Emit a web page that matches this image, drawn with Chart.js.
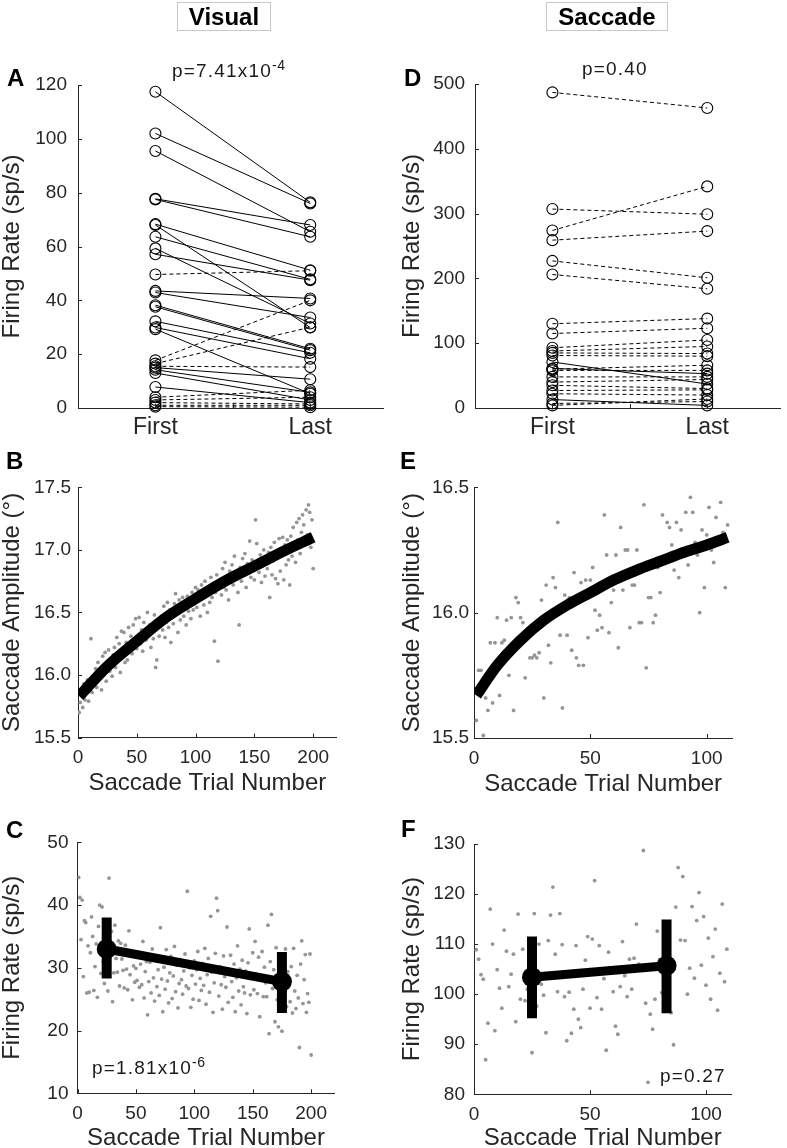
<!DOCTYPE html>
<html><head><meta charset="utf-8">
<script src="https://cdn.jsdelivr.net/npm/chart.js@4.4.0/dist/chart.umd.min.js"></script>
<style>
html,body{margin:0;padding:0;background:#fff;overflow:hidden;}
#wrap{position:relative;width:787px;height:1148px;}
canvas{position:absolute;left:0;top:0;}
.txt{position:absolute;font-family:'Liberation Sans',Arial,sans-serif;line-height:1;white-space:nowrap;color:#000;}
.let{font-size:24px;font-weight:bold;}
.pv{font-size:19px;letter-spacing:1.2px;color:#1a1a1a;}
.sup{font-size:14px;position:relative;top:-7px;letter-spacing:0.5px;}
.box{position:absolute;box-sizing:border-box;border:1px solid #c8c8c8;height:29px;top:2px;font:bold 24px 'Liberation Sans',Arial,sans-serif;line-height:27px;text-align:center;color:#000;}
</style></head>
<body><div id="wrap">
<canvas id="cA" width="787" height="1148"></canvas>
<canvas id="cB" width="787" height="1148"></canvas>
<canvas id="cC" width="787" height="1148"></canvas>
<canvas id="cD" width="787" height="1148"></canvas>
<canvas id="cE" width="787" height="1148"></canvas>
<canvas id="cF" width="787" height="1148"></canvas>
<div class="box" style="left:177px;width:94px">Visual</div>
<div class="box" style="left:546px;width:122px">Saccade</div>
<div class="txt let" style="left:7px;top:66px">A</div>
<div class="txt let" style="left:6px;top:449px">B</div>
<div class="txt let" style="left:6px;top:818px">C</div>
<div class="txt let" style="left:404px;top:66px">D</div>
<div class="txt let" style="left:400px;top:449px">E</div>
<div class="txt let" style="left:401px;top:817px">F</div>
<div class="txt pv" style="left:172px;top:60.6px">p=7.41x10<span class="sup">-4</span></div>
<div class="txt pv" style="left:582px;top:59px">p=0.40</div>
<div class="txt pv" style="left:92px;top:1058px">p=1.81x10<span class="sup">-6</span></div>
<div class="txt pv" style="left:660px;top:1065.6px">p=0.27</div>
</div>
<script>
// ---------- DATA ----------
// Panel A (Visual): firing rate first vs last, solid = significant change
const visualFirst = [117.5,102.0,95.5,77.7,77.5,68.3,68.0,63.6,59.3,57.1,49.6,43.5,42.9,38.2,37.6,32.2,29.9,29.3,17.7,16.5,15.5,15.0,14.2,13.0,7.8,4.0,3.0,2.0,1.0,0.5];
const visualLast  = [76.4,76.0,65.5,68.0,63.6,51.2,29.9,47.8,31.4,47.5,51.0,40.7,33.6,22.0,21.5,20.5,18.3,5.3,40.0,30.0,15.2,10.7,5.8,3.0,2.0,6.6,4.0,1.5,1.0,0.3];
const visualSolid = [1,1,1,1,1,1,1,1,1,1,0,1,1,1,1,1,1,1,0,0,0,1,1,1,1,0,0,0,0,0];
// Panel D (Saccade)
const saccFirst = [487,307,274,259,227,206,130,115,93,88,85,81,71,61,60,58,48,40,35,27,22,13,7,4];
const saccLast  = [463,299,342,273,201,184,138,123,105,95,84,80,37,53,66,58,48,44,30,28,20,4,10,14];
const saccSolid = [0,0,0,0,0,0,0,0,0,0,0,0,1,1,0,0,0,0,0,0,0,1,0,0];
const pairLabels = {1:'First', 2:'Last'};

// Panel B: saccade amplitude per trial (trial = index+1)
const ampVisual = [
15.70,15.78,15.85,15.74,15.93,15.80,15.88,15.96,15.79,15.91,
16.29,15.86,15.98,15.92,16.05,15.90,16.10,15.97,16.02,15.88,
16.15,16.00,16.18,15.95,16.08,16.20,16.03,16.12,15.99,16.16,
16.22,16.06,16.30,16.14,16.25,16.02,16.35,16.19,16.34,16.10,
16.26,16.12,16.38,16.20,16.31,16.17,16.40,16.24,16.45,16.21,
16.30,16.46,16.25,16.36,16.19,16.42,16.33,16.28,16.50,16.34,
16.40,16.22,16.37,16.29,16.48,16.06,16.12,16.44,16.31,16.39,
16.47,16.36,16.55,16.30,16.42,16.58,16.38,16.52,16.26,16.46,
16.41,16.57,16.65,16.49,16.34,16.60,16.44,16.53,16.62,16.47,
16.55,16.40,16.63,16.51,16.58,16.45,16.66,16.52,16.59,16.70,
16.54,16.68,16.60,16.47,16.72,16.63,16.56,16.75,16.64,16.50,
16.69,16.58,16.78,16.62,16.73,16.27,16.66,16.80,16.11,16.71,
16.76,16.64,16.85,16.70,16.90,16.68,16.79,16.60,16.83,16.74,
16.88,16.72,16.95,16.77,16.81,16.66,16.40,16.86,16.75,16.93,
16.80,16.97,16.70,16.89,16.84,17.07,16.78,16.92,16.86,16.76,
17.24,17.05,16.90,16.82,16.96,16.74,16.87,17.00,16.79,16.93,
16.85,16.98,16.62,17.02,16.80,16.91,17.06,16.77,16.95,16.73,
17.09,16.83,16.98,17.10,16.76,17.04,16.88,17.08,16.92,16.72,
17.11,16.95,17.18,17.03,16.90,17.22,17.08,17.25,16.97,17.14,
17.28,17.20,17.05,17.32,17.12,17.36,17.30,17.02,17.24,16.85];
const ampVisualFitTrial = [1,25,50,75,100,125,150,175,200];
const ampVisualFit      = [15.83,16.07,16.27,16.46,16.61,16.75,16.87,16.99,17.10];

// Panel C: firing rate per trial
const rateVisual = [
44.4,41.2,34.5,40.8,28.6,37.5,37.2,26.0,33.5,26.1,
32.4,38.1,35.0,26.4,30.2,33.8,25.3,36.6,40.0,29.1,
39.7,31.0,27.5,34.2,30.8,26.3,44.3,32.7,35.8,24.6,
29.2,36.8,31.5,29.3,34.3,27.1,33.9,31.4,29.6,26.8,
33.6,29.8,26.5,35.9,28.9,31.9,24.9,30.3,27.7,29.9,
28.0,32.5,26.9,30.6,27.3,34.2,25.2,29.4,31.0,22.5,
27.8,30.9,26.0,33.0,28.4,24.7,31.6,27.0,29.7,25.6,
36.4,28.2,23.0,30.1,26.6,32.9,27.9,24.4,29.2,31.8,
25.1,28.7,33.4,26.2,30.4,23.6,27.5,31.3,28.1,25.8,
29.5,32.2,27.1,42.2,26.7,30.0,23.7,28.8,25.0,31.1,
27.4,29.7,32.6,24.8,28.3,26.4,30.7,27.2,33.1,24.2,
28.9,31.5,26.1,38.2,29.3,22.9,27.6,32.3,41.1,39.1,
25.5,30.2,27.3,23.4,31.9,28.6,26.9,36.5,24.5,29.1,
32.0,27.8,25.3,30.6,23.0,28.4,33.5,26.3,29.8,24.1,
31.2,27.0,26.0,29.5,22.7,30.8,36.2,25.7,28.3,32.4,
26.5,34.2,29.0,25.9,31.7,22.2,28.0,32.6,25.4,30.1,
27.6,25.4,36.8,19.5,31.0,38.5,26.7,29.7,21.4,33.2,
24.9,20.6,27.9,31.4,19.9,28.6,25.8,33.0,23.8,29.4,
27.1,24.6,30.2,22.8,33.1,26.3,23.5,28.8,25.2,17.3,
30.6,34.3,24.3,28.1,32.1,22.9,25.9,24.5,32.2,16.1];
const rateVisualMeanTrial = [25,175];
const rateVisualMean = [33.0,27.8];
const rateVisualLow  = [28.3,22.8];
const rateVisualHigh = [38.0,32.5];

// Panel E: saccade amplitude per trial
const ampSacc = [
15.57,15.77,15.77,15.51,15.66,15.61,15.88,15.64,15.88,15.98,
15.67,15.88,15.89,15.97,15.75,15.98,15.61,16.06,16.04,15.98,
15.96,15.74,15.90,15.82,15.82,15.83,15.82,15.84,16.05,15.66,
16.11,15.87,15.80,16.14,16.10,16.36,15.91,15.62,16.07,15.91,
16.06,15.85,16.16,15.82,15.79,16.12,15.79,16.13,15.90,16.13,
16.18,16.01,15.93,15.99,15.94,16.39,16.23,15.92,16.04,16.09,
16.23,15.86,16.34,16.09,16.25,16.25,15.94,16.11,16.11,16.25,
15.96,15.96,16.43,15.78,16.06,16.06,15.96,15.99,16.18,16.08,
16.39,16.21,16.36,16.34,16.27,16.17,16.36,16.14,16.33,16.23,
16.40,16.19,16.46,16.40,16.28,16.23,16.00,16.33,16.10,16.31,
16.42,16.25,16.20,16.38,16.30,16.44,16.32,16.10,16.35];
const ampSaccFitTrial = [1,10,20,30,40,50,60,70,80,90,100,109];
const ampSaccFit      = [15.67,15.79,15.89,15.97,16.03,16.08,16.13,16.17,16.205,16.24,16.27,16.30];

// Panel F: firing rate per trial
const rateSacc = [
108.9,107.0,103.9,103.0,86.9,94.2,117.0,110.0,92.7,104.9,
101.2,97.2,112.8,108.6,101.5,104.0,108.0,94.5,116.0,99.0,
109.0,98.7,101.0,105.5,88.3,116.1,97.6,110.0,102.0,99.8,
92.3,110.7,115.8,121.4,108.0,100.5,116.1,109.9,99.5,90.7,
100.4,92.2,97.0,109.7,95.0,93.3,101.0,106.8,111.5,97.2,
111.0,122.7,99.3,109.7,97.0,103.1,88.8,108.4,104.5,100.5,
93.6,92.0,101.5,110.5,103.7,99.5,107.0,101.0,107.2,114.0,
106.0,104.8,128.7,98.2,82.4,96.0,93.0,99.0,112.6,106.9,
100.3,105.3,98.8,113.3,96.3,89.9,117.4,125.3,110.8,123.5,
110.7,100.0,105.2,117.5,103.2,114.7,120.3,105.8,115.5,101.8,
111.2,99.0,107.5,113.0,96.8,104.2,118.0,102.5,109.0];
const rateSaccMeanTrial = [25,83];
const rateSaccMean = [103.4,105.7];
const rateSaccLow  = [95.2,96.2];
const rateSaccHigh = [111.5,114.9];

// tick values
const pairTicks = [1,1.5,2];
const ticksA = [0,20,40,60,80,100,120];
const ticksD = [0,100,200,300,400,500];
const ticksB = [15.5,16.0,16.5,17.0,17.5];
const ticksE = [15.5,16.0,16.5];
const ticksC = [10,20,30,40,50];
const ticksF = [80,90,100,110,120,130];
const trialTicks200 = [0,50,100,150,200];
const trialTicks100 = [0,50,100];

// ---------- RENDER ----------
const FONT = "'Liberation Sans', Arial, sans-serif";
const AXIS = '#262626';
const GRAY = '#959595';
Chart.defaults.font.family = FONT;
Chart.defaults.color = '#262626';

const inwardTicks = {
  id: 'inwardTicks',
  afterDraw(chart) {
    const {ctx, chartArea: a, scales: {x, y}} = chart;
    ctx.save();
    ctx.strokeStyle = AXIS; ctx.lineWidth = 1;
    ctx.beginPath();
    x.ticks.forEach(t => { const px = Math.round(x.getPixelForValue(t.value)) + 0.5; ctx.moveTo(px, a.bottom); ctx.lineTo(px, a.bottom - 4); });
    y.ticks.forEach(t => { const py = Math.round(y.getPixelForValue(t.value)) + 0.5; ctx.moveTo(a.left, py); ctx.lineTo(a.left + 4, py); });
    ctx.stroke();
    ctx.restore();
  }
};

function buildPanel(id, p, datasets) {
  const W = 787, H = 1148, xh = 50;
  const yw = p.area.l - p.colLeft;
  return new Chart(document.getElementById(id), {
    type: 'line',
    data: { datasets },
    options: {
      responsive: false, animation: false, devicePixelRatio: 1, events: [],
      layout: { padding: { left: p.area.l - yw, top: p.area.t, right: W - p.area.r, bottom: H - p.area.b - xh } },
      plugins: { legend: { display: false }, tooltip: { enabled: false } },
      scales: {
        x: {
          type: 'linear', position: 'bottom', min: p.x.min, max: p.x.max,
          afterBuildTicks: s => { s.ticks = p.x.ticks.map(v => ({ value: v })); },
          afterFit: s => { s.height = xh; },
          grid: { display: false, drawTicks: false },
          border: { display: true, color: AXIS, width: 1 },
          ticks: { autoSkip: false, maxRotation: 0, minRotation: 0, padding: p.x.pad, font: { size: p.x.size }, color: '#262626', callback: p.x.label },
          title: p.xTitle ? { display: true, text: p.xTitle.text, font: { size: 24 }, color: '#262626',
                   padding: { top: 0, bottom: p.area.b + xh - 14.4 - p.xTitle.center } } : { display: false }
        },
        y: {
          type: 'linear', position: 'left', min: p.y.min, max: p.y.max,
          afterBuildTicks: s => { s.ticks = p.y.ticks.map(v => ({ value: v })); },
          afterFit: s => { s.width = yw; },
          grid: { display: false, drawTicks: false },
          border: { display: true, color: AXIS, width: 1 },
          ticks: { autoSkip: false, padding: p.y.pad, font: { size: 19 }, color: '#262626', callback: p.y.label },
          title: { display: true, text: p.yTitle, font: { size: 24 }, color: '#262626',
                   padding: { top: p.yTitleX - p.colLeft - 14.4, bottom: 0 } }
        }
      }
    },
    plugins: [inwardTicks]
  });
}

const num = v => String(v);
const dec1 = v => Number(v).toFixed(1);

function pairSets(first, last, solid) {
  return first.map((f, i) => ({
    data: [{ x: 1, y: f }, { x: 2, y: last[i] }],
    borderColor: '#000', borderWidth: 1, borderDash: solid[i] ? [] : [4, 3],
    pointRadius: 5.5, pointBorderWidth: 1.1, pointBorderColor: '#000',
    pointBackgroundColor: 'rgba(0,0,0,0)', clip: false, tension: 0
  }));
}
function dots(vals) {
  return { data: vals.map((v, i) => ({ x: i + 1, y: v })), showLine: false,
           pointRadius: 1.9, pointBorderWidth: 0, pointBackgroundColor: GRAY, borderColor: GRAY };
}
function fitLine(xs, ys) {
  return { data: xs.map((x, i) => ({ x, y: ys[i] })), borderColor: '#000', borderWidth: 11,
           pointRadius: 0, cubicInterpolationMode: 'monotone', borderCapStyle: 'butt' };
}
function meanSets(xs, m, lo, hi) {
  const mean = { data: xs.map((x, i) => ({ x, y: m[i] })), borderColor: '#000', borderWidth: 9,
                 pointRadius: 10, pointBackgroundColor: '#000', pointBorderWidth: 0, tension: 0 };
  const bars = xs.map((x, i) => ({ data: [{ x, y: lo[i] }, { x, y: hi[i] }], borderColor: '#000',
                 borderWidth: 10, pointRadius: 0, borderCapStyle: 'butt' }));
  return [mean, ...bars];
}
const pairLabel = v => pairLabels[v] || '';

// A
buildPanel('cA', {
  area: { l: 78, t: 85, r: 383, b: 408 }, colLeft: 0, yTitleX: 12,
  x: { min: 0.5, max: 2.47, ticks: pairTicks, label: pairLabel, size: 23, pad: 6 },
  y: { min: 0, max: 120, ticks: ticksA, label: num, pad: 11 },
  yTitle: 'Firing Rate (sp/s)'
}, pairSets(visualFirst, visualLast, visualSolid));

// D
buildPanel('cD', {
  area: { l: 475, t: 84, r: 780, b: 408 }, colLeft: 399, yTitleX: 412,
  x: { min: 0.5, max: 2.47, ticks: pairTicks, label: pairLabel, size: 23, pad: 6 },
  y: { min: 0, max: 500, ticks: ticksD, label: num, pad: 10 },
  yTitle: 'Firing Rate (sp/s)'
}, pairSets(saccFirst, saccLast, saccSolid));

// B
buildPanel('cB', {
  area: { l: 78, t: 487.3, r: 336.7, b: 737.5 }, colLeft: 0, yTitleX: 12,
  x: { min: 0, max: 220, ticks: trialTicks200, label: num, size: 19, pad: 9 },
  y: { min: 15.5, max: 17.5, ticks: ticksB, label: dec1, pad: 7 },
  xTitle: { text: 'Saccade Trial Number', center: 783.5 },
  yTitle: 'Saccade Amplitude (°)'
}, [fitLine(ampVisualFitTrial, ampVisualFit), dots(ampVisual)]);

// E
buildPanel('cE', {
  area: { l: 474, t: 487.3, r: 732.3, b: 738 }, colLeft: 399, yTitleX: 412,
  x: { min: 0, max: 111, ticks: trialTicks100, label: num, size: 19, pad: 9 },
  y: { min: 15.5, max: 16.5, ticks: ticksE, label: dec1, pad: 5 },
  xTitle: { text: 'Saccade Trial Number', center: 784 },
  yTitle: 'Saccade Amplitude (°)'
}, [fitLine(ampSaccFitTrial, ampSaccFit), dots(ampSacc)]);

// C
buildPanel('cC', {
  area: { l: 77.5, t: 842.3, r: 334.5, b: 1093.3 }, colLeft: 0, yTitleX: 12,
  x: { min: 0, max: 220, ticks: trialTicks200, label: num, size: 19, pad: 9 },
  y: { min: 10, max: 50, ticks: ticksC, label: num, pad: 9 },
  xTitle: { text: 'Saccade Trial Number', center: 1138.5 },
  yTitle: 'Firing Rate (sp/s)'
}, [...meanSets(rateVisualMeanTrial, rateVisualMean, rateVisualLow, rateVisualHigh), dots(rateVisual)]);

// F
buildPanel('cF', {
  area: { l: 474, t: 844, r: 731.5, b: 1094.3 }, colLeft: 399, yTitleX: 412,
  x: { min: 0, max: 111, ticks: trialTicks100, label: num, size: 19, pad: 9 },
  y: { min: 80, max: 130, ticks: ticksF, label: num, pad: 9 },
  xTitle: { text: 'Saccade Trial Number', center: 1138.3 },
  yTitle: 'Firing Rate (sp/s)'
}, [...meanSets(rateSaccMeanTrial, rateSaccMean, rateSaccLow, rateSaccHigh), dots(rateSacc)]);
</script>
</body></html>
